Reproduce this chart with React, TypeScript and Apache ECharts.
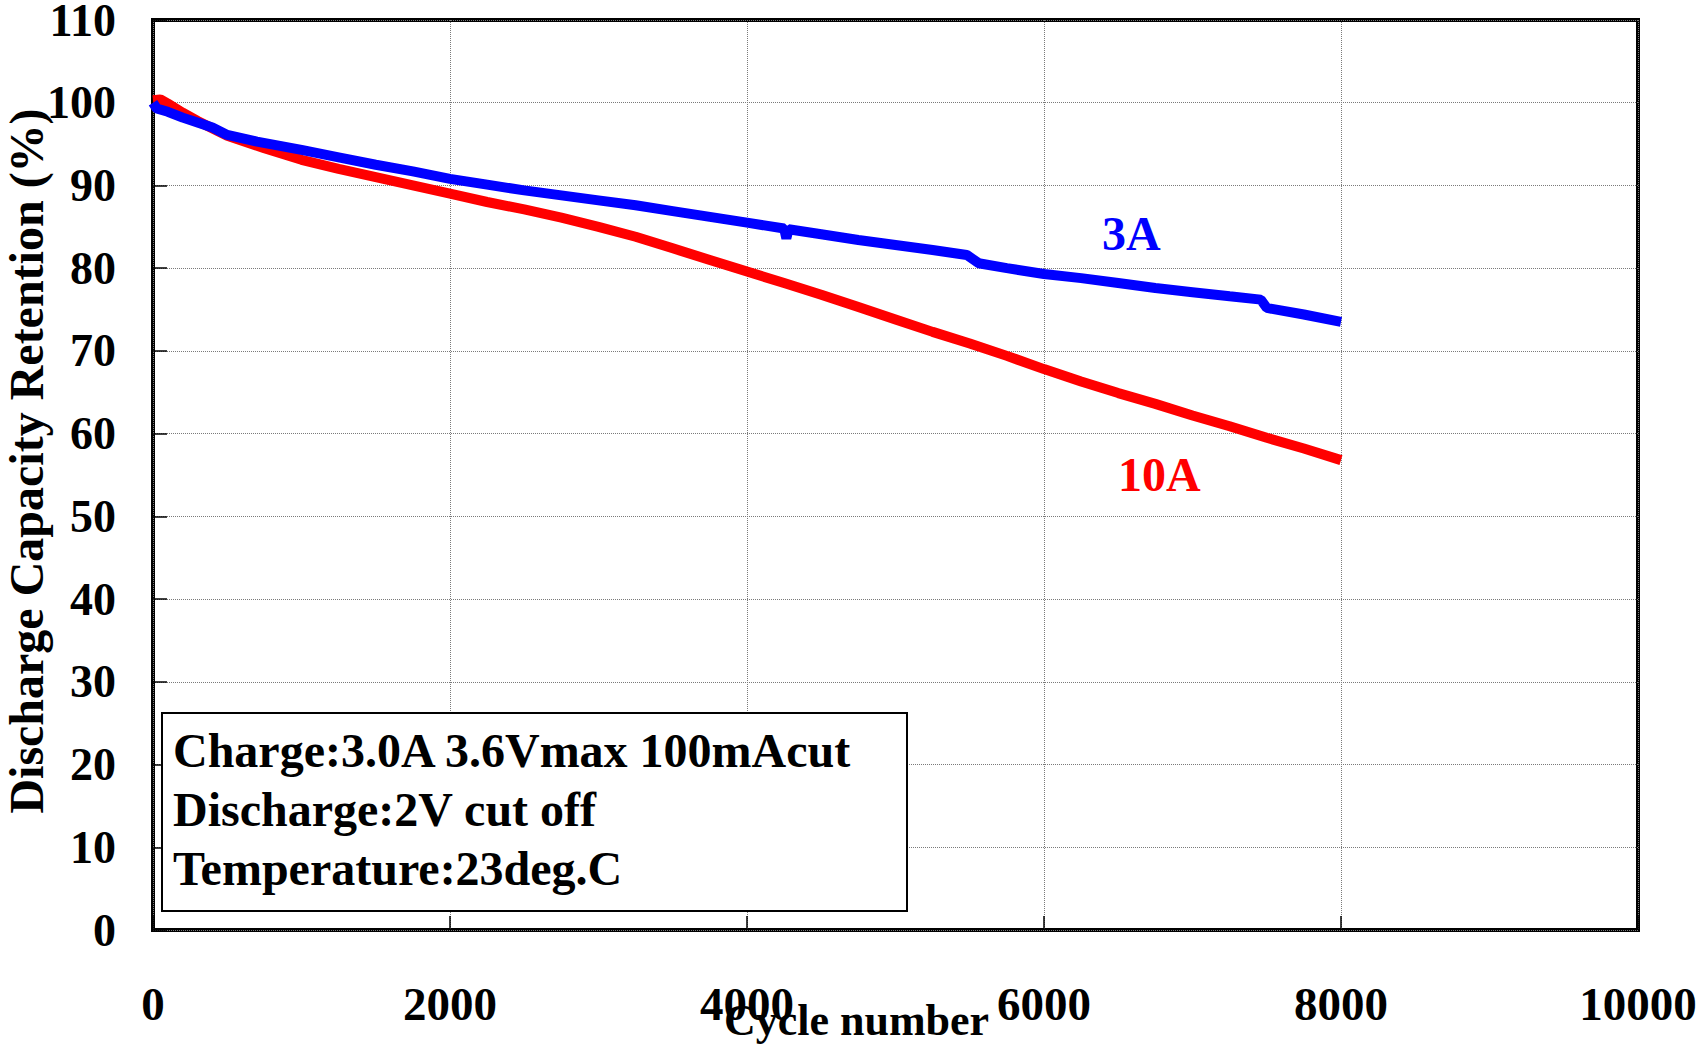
import React, { useEffect, useRef } from "react";
import * as echarts from "echarts";

const cycles3A = [0, 25, 100, 200, 300, 400, 500, 700, 1000, 1250, 1500, 1750, 2000, 2250, 2500, 2750, 3000, 3250, 3500, 3750, 4000, 4250, 4265, 4280, 4500, 4750, 5000, 5250, 5480, 5560, 5750, 6000, 6250, 6500, 6750, 7000, 7250, 7460, 7500, 7750, 8000];
const retention3A = [100.0, 99.3, 98.9, 98.2, 97.6, 97.0, 96.1, 95.3, 94.3, 93.4, 92.5, 91.7, 90.8, 90.1, 89.4, 88.8, 88.2, 87.6, 86.9, 86.2, 85.5, 84.8, 83.6, 84.7, 84.1, 83.4, 82.8, 82.2, 81.6, 80.6, 80.0, 79.3, 78.8, 78.2, 77.6, 77.1, 76.6, 76.2, 75.2, 74.4, 73.5];

const cycles10A = [0, 50, 100, 200, 300, 500, 750, 1000, 1250, 1500, 1750, 2000, 2250, 2500, 2750, 3000, 3250, 3500, 3750, 4000, 4250, 4500, 4750, 5000, 5250, 5500, 5750, 6000, 6250, 6500, 6750, 7000, 7250, 7500, 7750, 8000];
const retention10A = [100.3, 100.4, 99.9, 98.8, 97.8, 96.0, 94.5, 93.1, 92.0, 91.0, 90.0, 89.0, 88.0, 87.1, 86.1, 85.0, 83.8, 82.4, 81.0, 79.6, 78.2, 76.8, 75.3, 73.8, 72.3, 70.9, 69.4, 67.8, 66.3, 64.9, 63.6, 62.2, 60.9, 59.5, 58.2, 56.8];

const xTicks = { min: 0, max: 10000, interval: 2000 };
const yTicks = { min: 0, max: 110, interval: 10 };

const noteLines = ["Charge:3.0A 3.6Vmax 100mAcut", "Discharge:2V cut off", "Temperature:23deg.C"];

const FONT = '"Liberation Serif", "Times New Roman", serif';

export default function App() {
  const ref = useRef<HTMLDivElement>(null);
  useEffect(() => {
    const chart = echarts.init(ref.current!, null, { renderer: "svg" });
    const pairs = (xs: number[], ys: number[]) => xs.map((x, i) => [x, ys[i]]);
    chart.setOption({
      animation: false,
      backgroundColor: "#fff",
      grid: {
        left: 153,
        right: 59,
        top: 20,
        bottom: 117,
        containLabel: false,
        outerBoundsMode: "none",
        show: true,
        borderColor: "#000",
        borderWidth: 4,
        backgroundColor: "transparent",
      },
      xAxis: {
        type: "value",
        ...xTicks,
        name: "Cycle number",
        nameLocation: "middle",
        nameGap: 70,
        nameMoveOverlap: false,
        nameTextStyle: { fontFamily: FONT, fontWeight: "bold", fontSize: 44, lineHeight: 40, color: "#000", padding: [0, 78, 0, 0] },
        axisLine: { show: false },
        axisTick: { show: true, inside: true, length: 14, lineStyle: { color: "#000", width: 1.5 } },
        axisLabel: { fontFamily: FONT, fontWeight: "bold", fontSize: 47, color: "#000", margin: 50, formatter: (v: number) => String(v) },
        splitLine: { show: true, lineStyle: { color: "#7a7a7a", width: 1, type: "dotted" } },
      },
      yAxis: {
        type: "value",
        ...yTicks,
        name: "Discharge Capacity Retention (%)",
        nameLocation: "middle",
        nameRotate: 90,
        nameGap: 105,
        nameMoveOverlap: false,
        nameTextStyle: { fontFamily: FONT, fontWeight: "bold", fontSize: 48, lineHeight: 44, color: "#000", padding: [0, 0, 0, 28] },
        axisLine: { show: false },
        axisTick: { show: true, inside: true, length: 14, lineStyle: { color: "#000", width: 1.5 } },
        axisLabel: { fontFamily: FONT, fontWeight: "bold", fontSize: 46, lineHeight: 36, color: "#000", margin: 37, formatter: (v: number) => String(v) },
        splitLine: { show: true, lineStyle: { color: "#7a7a7a", width: 1, type: "dotted" } },
      },
      series: [
        {
          name: "10A",
          type: "line",
          data: pairs(cycles10A, retention10A),
          showSymbol: false,
          lineStyle: { color: "#ff0000", width: 10 },
          itemStyle: { color: "#ff0000" },
        },
        {
          name: "3A",
          type: "line",
          data: pairs(cycles3A, retention3A),
          showSymbol: false,
          lineStyle: { color: "#0000ff", width: 10 },
          itemStyle: { color: "#0000ff" },
        },
      ],
      graphic: [
        {
          type: "rect",
          shape: { x: 162, y: 713, width: 745, height: 198 },
          style: { fill: "#fff", stroke: "#000", lineWidth: 2 },
          z: 10,
        },
        ...noteLines.map((t, i) => ({
          type: "text",
          x: 173,
          y: 774 + i * 59,
          z: 11,
          style: {
            text: t,
            font: `bold 48px ${FONT}`,
            fill: "#000",
            textVerticalAlign: "bottom",
          },
        })),
        {
          type: "text",
          x: 1102,
          y: 257,
          z: 11,
          style: { text: "3A", font: `bold 48px ${FONT}`, fill: "#0000ff", textVerticalAlign: "bottom" },
        },
        {
          type: "text",
          x: 1118,
          y: 498,
          z: 11,
          style: { text: "10A", font: `bold 48px ${FONT}`, fill: "#ff0000", textVerticalAlign: "bottom" },
        },
      ],
    });
    return () => chart.dispose();
  }, []);
  return <div ref={ref} style={{ position: "absolute", left: 0, top: 0, width: 1697, height: 1047 }} />;
}
